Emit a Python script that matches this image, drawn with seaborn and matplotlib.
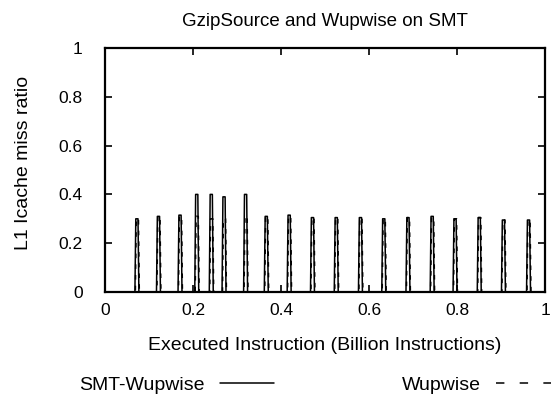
import matplotlib
matplotlib.use("Agg")
import matplotlib.pyplot as plt
import seaborn as sns
import pandas as pd

# spike positions (billion instructions) and peak miss ratios
spike_pos = [0.072, 0.121, 0.170, 0.208, 0.241, 0.270, 0.319, 0.366, 0.418, 0.471,
             0.525, 0.580, 0.633, 0.688, 0.743, 0.795, 0.850, 0.905, 0.962]
smt_peaks = [0.30, 0.31, 0.315, 0.40, 0.40, 0.39, 0.40, 0.31, 0.315, 0.305,
             0.305, 0.305, 0.30, 0.305, 0.31, 0.30, 0.305, 0.295, 0.295]
wup_peaks = [0.30, 0.31, 0.31, 0.31, 0.30, 0.30, 0.31, 0.31, 0.31, 0.305,
             0.305, 0.305, 0.30, 0.305, 0.305, 0.30, 0.305, 0.295, 0.295]

x_ticks = [0, 0.2, 0.4, 0.6, 0.8, 1]
y_ticks = [0, 0.2, 0.4, 0.6, 0.8, 1]


def pulse_series(positions, peaks, name, shift=0.0):
    xs, ys = [0.0], [0.0]
    for p, h in zip(positions, peaks):
        p = p + shift
        xs += [p - 0.004, p - 0.002, p + 0.003, p + 0.005]
        ys += [0.0, h, h, 0.0]
    xs.append(1.0)
    ys.append(0.0)
    return pd.DataFrame({"x": xs, "y": ys, "series": name})


df = pd.concat([
    pulse_series(spike_pos, smt_peaks, "SMT-Wupwise"),
    pulse_series(spike_pos, wup_peaks, "Wupwise", shift=0.001),
], ignore_index=True)

sns.set_style("ticks")
plt.rcParams["font.family"] = ["Liberation Sans", "DejaVu Sans"]
for key in ["text.color", "axes.labelcolor", "xtick.color", "ytick.color", "axes.edgecolor"]:
    plt.rcParams[key] = "black"

fig = plt.figure(figsize=(5.57, 4.05), dpi=100)
ax = fig.add_axes([0.1885, 0.279, 0.790, 0.6025])

sns.lineplot(data=df, x="x", y="y", style="series", color="black",
             dashes={"SMT-Wupwise": "", "Wupwise": (3, 4)},
             linewidth=1.1, sort=False, estimator=None, ax=ax, legend=False)

ax.set_xlim(0, 1)
ax.set_ylim(0, 1)
ax.set_xticks(x_ticks)
ax.set_xticklabels([f"{t:g}" for t in x_ticks], fontsize=12.5)
ax.set_yticks(y_ticks)
ax.set_yticklabels([f"{t:g}" for t in y_ticks], fontsize=12.5)
ax.tick_params(direction="in", top=True, right=True, length=5, width=1.2)
ax.tick_params(axis="x", pad=8)
ax.tick_params(axis="y", pad=16)
for s in ax.spines.values():
    s.set_linewidth(1.6)

ax.set_xlabel("Executed Instruction (Billion Instructions)", fontsize=14)
ax.set_ylabel("L1 Icache miss ratio", fontsize=14)
ax.xaxis.set_label_coords(0.5, -0.185)
ax.yaxis.set_label_coords(-0.165, 0.53)
ax.set_title("GzipSource and Wupwise on SMT", fontsize=13.5, pad=15.5)

handles = [plt.Line2D([], [], color="black", lw=1.1),
           plt.Line2D([], [], color="black", lw=1.1, dashes=(5.5, 10))]
fig.legend(handles, ["SMT-Wupwise", "Wupwise"], ncol=2, markerfirst=False,
           loc="center", bbox_to_anchor=(0.5655, 0.05), frameon=False,
           fontsize=14, handlelength=2.8, columnspacing=6.6, handletextpad=0.77)

fig.savefig("out.png", dpi=100)
